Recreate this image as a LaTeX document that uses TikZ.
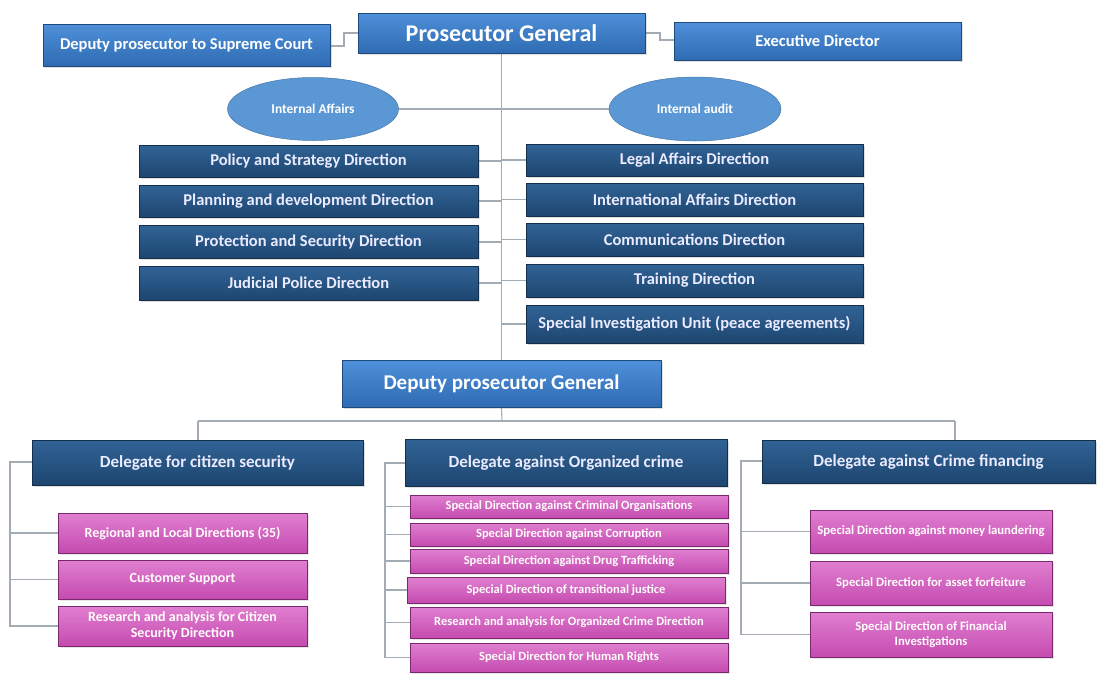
\documentclass[tikz,border=0pt]{standalone}
\usepackage{fontspec}
\setmainfont{Carlito}
\usetikzlibrary{shapes.geometric,shadows,backgrounds}
\definecolor{lbtop}{HTML}{4F90DA}
\definecolor{lbbot}{HTML}{2E6BB2}
\definecolor{lbdraw}{HTML}{1E4A7E}
\definecolor{dbtop}{HTML}{316396}
\definecolor{dbbot}{HTML}{1D4670}
\definecolor{dbdraw}{HTML}{142F4C}
\definecolor{pktop}{HTML}{E07FD0}
\definecolor{pkbot}{HTML}{C54BB0}
\definecolor{pkdraw}{HTML}{7A2A6C}
\definecolor{ovfill}{HTML}{5B97D4}
\definecolor{linegray}{HTML}{A3ABB4}
\tikzset{
  boxbase/.style={rectangle, inner sep=1pt, align=center, font=\bfseries, line width=1pt},
  lightbox/.style={boxbase, top color=lbtop, bottom color=lbbot, draw=lbdraw, text=white, drop shadow={opacity=0.25, shadow xshift=1.5pt, shadow yshift=-1.5pt}},
  darkbox/.style={boxbase, top color=dbtop, bottom color=dbbot, draw=dbdraw, text=white!92!blue, drop shadow={opacity=0.25, shadow xshift=1.5pt, shadow yshift=-1.5pt}},
  pinkbox/.style={boxbase, top color=pktop, bottom color=pkbot, draw=pkdraw, text=white!95!pink, drop shadow={opacity=0.2, shadow xshift=1.5pt, shadow yshift=-1.5pt}},
  oval/.style={ellipse, fill=ovfill, draw=ovfill!80!black, line width=0.5pt, text=white, font=\bfseries\fontsize{13.5}{16}\selectfont, inner sep=0pt},
  conn/.style={draw=linegray, line width=1.1pt},
}
\newcommand{\fsz}[1]{\fontsize{#1}{\fpeval{#1*1.2}}\selectfont}
\begin{document}
\begin{tikzpicture}[x=1pt, y=-1pt]
\useasboundingbox (0,0) rectangle (1100,675);

% top row
\node[lightbox, minimum width=287pt, minimum height=42pt, font=\bfseries\fsz{16.5}] (dsc) at (186.5,45) {Deputy prosecutor to Supreme Court};
\node[lightbox, minimum width=287pt, minimum height=40pt, font=\bfseries\fsz{24}] (pg) at (501.5,33) {Prosecutor General};
\node[lightbox, minimum width=287pt, minimum height=38pt, font=\bfseries\fsz{16.5}] (ed) at (817.5,41) {Executive Director};

% ellipses
\node[oval, minimum width=171pt, minimum height=63pt] (ia) at (313,109) {Internal Affairs};
\node[oval, minimum width=172pt, minimum height=64pt] (iau) at (695,109) {Internal audit};

% left column
\node[darkbox, minimum width=339pt, minimum height=32pt, font=\bfseries\fsz{16.5}] (l1) at (308.5,161) {Policy and Strategy Direction};
\node[darkbox, minimum width=339pt, minimum height=32pt, font=\bfseries\fsz{16.5}] (l2) at (308.5,201) {Planning and  development Direction};
\node[darkbox, minimum width=339pt, minimum height=33pt, font=\bfseries\fsz{16.5}] (l3) at (308.5,242) {Protection and Security Direction};
\node[darkbox, minimum width=339pt, minimum height=34pt, font=\bfseries\fsz{16.5}] (l4) at (308.5,283) {Judicial Police Direction};

% right column
\node[darkbox, minimum width=337pt, minimum height=32pt, font=\bfseries\fsz{16.5}] (r1) at (694.5,160) {Legal Affairs Direction};
\node[darkbox, minimum width=337pt, minimum height=33pt, font=\bfseries\fsz{16.5}] (r2) at (694.5,199.5) {International Affairs Direction};
\node[darkbox, minimum width=337pt, minimum height=33pt, font=\bfseries\fsz{16.5}] (r3) at (694.5,239.5) {Communications Direction};
\node[darkbox, minimum width=337pt, minimum height=33pt, font=\bfseries\fsz{16.5}] (r4) at (694.5,280.5) {Training Direction};
\node[darkbox, minimum width=337pt, minimum height=38pt, font=\bfseries\fsz{16.5}] (r5) at (694.5,324) {Special Investigation Unit (peace agreements)};

% deputy prosecutor general
\node[lightbox, minimum width=319pt, minimum height=47pt, font=\bfseries\fsz{21}] (dpg) at (501.5,383.5) {Deputy prosecutor General};

% delegates
\node[darkbox, minimum width=331pt, minimum height=45pt, font=\bfseries\fsz{17}] (dc) at (197.5,462.5) {Delegate for citizen security};
\node[darkbox, minimum width=322pt, minimum height=47pt, font=\bfseries\fsz{17}] (do) at (566,462.5) {Delegate against Organized crime};
\node[darkbox, minimum width=333pt, minimum height=43pt, font=\bfseries\fsz{17}] (df) at (928.5,461.5) {Delegate against Crime financing};

% citizen security pinks
\node[pinkbox, minimum width=249pt, minimum height=40pt, font=\bfseries\fsz{14}] (c1) at (182.5,533) {Regional and Local Directions (35)};
\node[pinkbox, minimum width=249pt, minimum height=39pt, font=\bfseries\fsz{14}] (c2) at (182.5,579.5) {Customer Support};
\node[pinkbox, minimum width=249pt, minimum height=40pt, font=\bfseries\fsz{14}] (c3) at (182.5,626) {Research and analysis for Citizen\\[-1pt] Security Direction};

% organized crime pinks
\node[pinkbox, minimum width=318pt, minimum height=23pt, font=\bfseries\fsz{12.5}] (o1) at (569,506.5) {Special Direction against Criminal Organisations};
\node[pinkbox, minimum width=318pt, minimum height=23pt, font=\bfseries\fsz{12.5}] (o2) at (569,534.5) {Special Direction against Corruption};
\node[pinkbox, minimum width=318pt, minimum height=24pt, font=\bfseries\fsz{12.5}] (o3) at (569,561) {Special Direction against Drug Trafficking};
\node[pinkbox, minimum width=318pt, minimum height=26pt, font=\bfseries\fsz{12.5}] (o4) at (566,590) {Special Direction of transitional justice};
\node[pinkbox, minimum width=318pt, minimum height=31pt, font=\bfseries\fsz{12.5}] (o5) at (569,622.5) {Research and analysis for Organized Crime  Direction};
\node[pinkbox, minimum width=318pt, minimum height=29pt, font=\bfseries\fsz{12.5}] (o6) at (569,657.5) {Special Direction for Human Rights};

% crime financing pinks
\node[pinkbox, minimum width=242pt, minimum height=43pt, font=\bfseries\fsz{12.7}] (f1) at (931,531.5) {Special Direction against money laundering};
\node[pinkbox, minimum width=242pt, minimum height=44pt, font=\bfseries\fsz{12.7}] (f2) at (931,583) {Special Direction for asset forfeiture};
\node[pinkbox, minimum width=242pt, minimum height=45pt, font=\bfseries\fsz{12.7}] (f3) at (931,634.5) {Special Direction of Financial\\ Investigations};

% connector helper coordinates
\coordinate (dscj) at (344,46);
\coordinate (edj) at (660,40);
\coordinate (bus) at (502,421);
\coordinate (busl) at (198,421);
\coordinate (busr) at (955,421);
\coordinate (brc) at (10,462);
\coordinate (bro) at (385,463);
\coordinate (brf) at (741,461);

\begin{scope}[on background layer]
% top connectors
\draw[conn] (dsc.east |- dscj) -- (dscj) -- (dscj |- pg.west) -- (pg.west);
\draw[conn] (pg.east) -- (edj |- pg.east) -- (edj) -- (ed.west |- edj);
\draw[conn] (pg.south) -- (dpg.north);
\draw[conn] (ia.east) -- (iau.west);
\foreach \n in {l1,l2,l3,l4} \draw[conn] (\n.east) -- (\n.east -| pg.south);
\foreach \n in {r1,r2,r3,r4,r5} \draw[conn] (\n.west) -- (\n.west -| pg.south);
% lower bus
\draw[conn] (dpg.south) -- (bus);
\draw[conn] (busl) -- (busr);
\draw[conn] (busl) -- (busl |- dc.north);
\draw[conn] (busr) -- (busr |- df.north);
% brackets
\draw[conn] (dc.west |- brc) -- (brc) -- (brc |- c3.west) -- (c3.west);
\foreach \n in {c1,c2} \draw[conn] (brc |- \n.west) -- (\n.west);
\draw[conn] (do.west |- bro) -- (bro) -- (bro |- o6.west) -- (o6.west);
\foreach \n in {o1,o2,o3,o4,o5} \draw[conn] (bro |- \n.west) -- (\n.west);
\draw[conn] (df.west |- brf) -- (brf) -- (brf |- f3.west) -- (f3.west);
\foreach \n in {f1,f2} \draw[conn] (brf |- \n.west) -- (\n.west);
\end{scope}
\end{tikzpicture}
\end{document}
